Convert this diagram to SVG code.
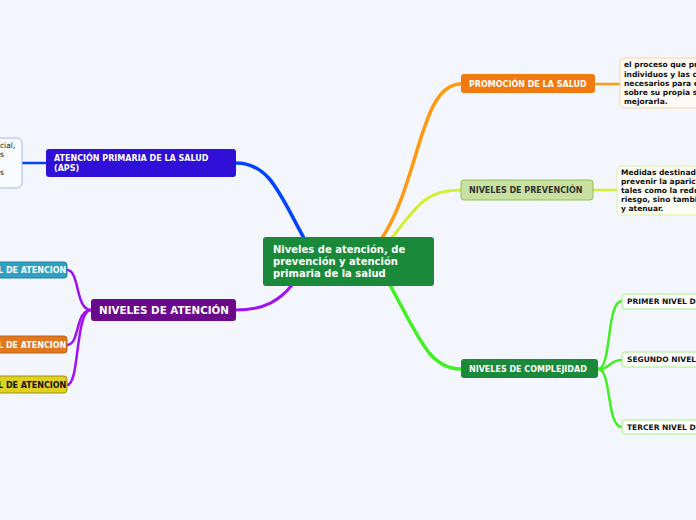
<svg xmlns="http://www.w3.org/2000/svg" width="696" height="520" viewBox="0 0 696 520">
<style>
text{font-family:"DejaVu Sans",Verdana,sans-serif;font-weight:bold}
.w{fill:#fff;font-size:8px}
.k{fill:#111;font-size:7.5px}
.c{fill:none;stroke-linecap:round}
</style>
<rect width="696" height="520" fill="#f4f6fe"/>
<g id="connectors">
<path class="c" d="M305,240 C280,195 270,163 236,163" stroke="#0044ff" stroke-width="3.5"/>
<path class="c" d="M292,285 C280,300 265,310 236,310" stroke="#a010f0" stroke-width="3"/>
<path class="c" d="M382,238 C420,180 420,84 461,84" stroke="#ff9a10" stroke-width="3.5"/>
<path class="c" d="M392,238 C420,200 430,190 461,190" stroke="#d0f030" stroke-width="3"/>
<path class="c" d="M390,285 C420,340 430,369 461,369" stroke="#40f020" stroke-width="3.5"/>
<path class="c" d="M595,84 L620,84" stroke="#ff9a10" stroke-width="2.5"/>
<path class="c" d="M593,190 L617,190" stroke="#d0f030" stroke-width="2.5"/>
<path class="c" d="M598,369 C612,369 606,301 622,301" stroke="#40f020" stroke-width="2.5"/>
<path class="c" d="M598,369 C612,369 608,360 622,360" stroke="#40f020" stroke-width="2.5"/>
<path class="c" d="M598,369 C612,369 606,427 622,427" stroke="#40f020" stroke-width="2.5"/>
<path class="c" d="M46,163 L22,163" stroke="#0044ff" stroke-width="2.5"/>
<path class="c" d="M91,310 C75,310 80,270 67,270" stroke="#a010f0" stroke-width="2.5"/>
<path class="c" d="M91,310 C75,310 80,345 67,345" stroke="#a010f0" stroke-width="2.5"/>
<path class="c" d="M91,310 C75,310 80,385 67,385" stroke="#a010f0" stroke-width="2.5"/>
</g>
<g id="center"><rect x="263" y="237" width="171" height="49" rx="3" fill="#1a8a3a"/>
<text fill="#fff" font-size="10"><tspan x="273" y="253">Niveles de atención, de</tspan><tspan x="273" y="265">prevención y atención</tspan><tspan x="273" y="277">primaria de la salud</tspan></text></g>
<g id="promocion"><rect x="461" y="74" width="134" height="19" rx="3" fill="#f07a10"/><text class="w" x="469" y="87">PROMOCIÓN DE LA SALUD</text></g>
<g id="note-promocion"><rect x="620" y="58" width="90" height="50" rx="5" fill="#fdfaf5" stroke="#fbd3a0"/>
<text class="k"><tspan x="624" y="67">el proceso que pr</tspan><tspan x="624" y="77">individuos y las c</tspan><tspan x="624" y="86">necesarios para e</tspan><tspan x="624" y="95">sobre su propia s</tspan><tspan x="624" y="104">mejorarla.</tspan></text></g>
<g id="prevencion"><rect x="461" y="180" width="132" height="20" rx="3" fill="#c8e0a0" stroke="#90c050"/><text x="469" y="193" font-size="8" fill="#333">NIVELES DE PREVENCIÓN</text></g>
<g id="note-prevencion"><rect x="617" y="166" width="90" height="49" rx="5" fill="#fbfdf4" stroke="#e0f0a0"/>
<text class="k"><tspan x="621" y="175">Medidas destinada</tspan><tspan x="621" y="184">prevenir la aparici</tspan><tspan x="621" y="193">tales como la redu</tspan><tspan x="621" y="202">riesgo, sino tambi</tspan><tspan x="621" y="211">y atenuar.</tspan></text></g>
<g id="complejidad"><rect x="461" y="359" width="137" height="19" rx="3" fill="#1a8a3a"/><text class="w" x="469" y="372">NIVELES DE COMPLEJIDAD</text></g>
<g id="primer"><rect x="622" y="294" width="90" height="15" rx="3" fill="#fff" stroke="#a0f080"/><text class="k" x="627" y="304">PRIMER NIVEL DE</text></g>
<g id="segundo"><rect x="622" y="352" width="90" height="15" rx="3" fill="#fff" stroke="#a0f080"/><text class="k" x="627" y="362">SEGUNDO NIVEL D</text></g>
<g id="tercer"><rect x="622" y="420" width="90" height="14" rx="3" fill="#fff" stroke="#a0f080"/><text class="k" x="627" y="430">TERCER NIVEL DE</text></g>
<g id="aps"><rect x="46" y="149" width="190" height="28" rx="3" fill="#3010d8"/><text class="w"><tspan x="54" y="161">ATENCIÓN PRIMARIA DE LA SALUD</tspan><tspan x="54" y="171">(APS)</tspan></text></g>
<g id="note-aps"><rect x="-20" y="138" width="42" height="50" rx="5" fill="#fafbff" stroke="#a0b8f0"/>
<text class="k" style="font-weight:normal"><tspan x="0" y="148">cial,</tspan><tspan x="0" y="157">s</tspan><tspan x="0" y="175">s</tspan></text></g>
<g id="niveles-atencion"><rect x="91" y="299" width="145" height="22" rx="3" fill="#6a0a8a"/><text x="99" y="314" fill="#fff" font-size="10" textLength="130" lengthAdjust="spacingAndGlyphs">NIVELES DE ATENCIÓN</text></g>
<g id="nivel1"><rect x="-30" y="262" width="97" height="16" rx="3" fill="#30a0c0" stroke="#2080a0"/><text class="w" x="-2" y="273">L DE ATENCION</text></g>
<g id="nivel2"><rect x="-30" y="336" width="97" height="17" rx="3" fill="#e07820" stroke="#c06010"/><text class="w" x="-2" y="348">L DE ATENCION</text></g>
<g id="nivel3"><rect x="-30" y="376" width="97" height="17" rx="3" fill="#e0d020" stroke="#a09010"/><text x="-2" y="388" font-size="8" fill="#111">L DE ATENCION</text></g>
</svg>
